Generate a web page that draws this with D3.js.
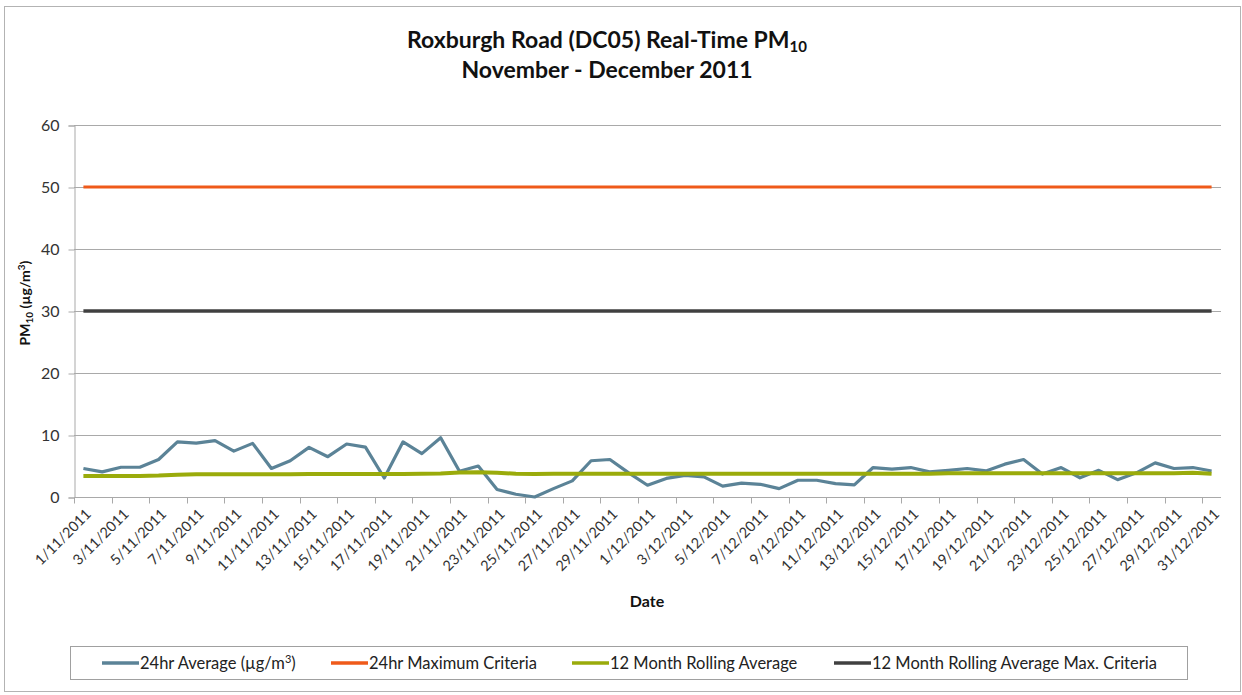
<!DOCTYPE html>
<html>
<head>
<meta charset="utf-8">
<script src="https://cdn.jsdelivr.net/npm/d3@7"></script>
<style>
  body { margin: 0; background: #fff; }
  svg { display: block; font-family: Lato, "Open Sans", sans-serif; }
</style>
</head>
<body>
<svg id="chart"></svg>
<script>
//categories: one per day
const dates = [
  "1/11/2011", "2/11/2011", "3/11/2011", "4/11/2011", "5/11/2011", "6/11/2011", "7/11/2011", "8/11/2011",
  "9/11/2011", "10/11/2011", "11/11/2011", "12/11/2011", "13/11/2011", "14/11/2011", "15/11/2011",
  "16/11/2011", "17/11/2011", "18/11/2011", "19/11/2011", "20/11/2011", "21/11/2011", "22/11/2011",
  "23/11/2011", "24/11/2011", "25/11/2011", "26/11/2011", "27/11/2011", "28/11/2011", "29/11/2011",
  "30/11/2011", "1/12/2011", "2/12/2011", "3/12/2011", "4/12/2011", "5/12/2011", "6/12/2011",
  "7/12/2011", "8/12/2011", "9/12/2011", "10/12/2011", "11/12/2011", "12/12/2011", "13/12/2011",
  "14/12/2011", "15/12/2011", "16/12/2011", "17/12/2011", "18/12/2011", "19/12/2011", "20/12/2011",
  "21/12/2011", "22/12/2011", "23/12/2011", "24/12/2011", "25/12/2011", "26/12/2011", "27/12/2011",
  "28/12/2011", "29/12/2011", "30/12/2011", "31/12/2011"
];

//24hr average (µg/m³)
const avg24 = [
  4.6, 4.05, 4.8, 4.8, 6.05, 8.9, 8.7, 9.1, 7.4, 8.65,
  4.6, 5.85, 8.0, 6.5, 8.55, 8.05, 3.07, 8.9, 7.0, 9.55,
  4.15, 5.0, 1.2, 0.45, 0.0, 1.35, 2.6, 5.85, 6.05, 3.9,
  1.9, 3.0, 3.5, 3.25, 1.75, 2.25, 2.05, 1.35, 2.7, 2.7,
  2.15, 1.95, 4.75, 4.5, 4.75, 4.05, 4.3, 4.6, 4.2, 5.3,
  6.05, 3.7, 4.75, 3.1, 4.3, 2.8, 3.9, 5.5, 4.6, 4.75,
  4.2
];

//12 month rolling average
const rolling12 = [
  3.4, 3.4, 3.4, 3.4, 3.45, 3.6, 3.65, 3.65, 3.65, 3.65,
  3.65, 3.65, 3.7, 3.7, 3.7, 3.7, 3.7, 3.7, 3.75, 3.8,
  3.95, 4.0, 3.9, 3.75, 3.7, 3.75, 3.75, 3.75, 3.75, 3.75,
  3.75, 3.75, 3.75, 3.75, 3.75, 3.75, 3.75, 3.75, 3.75, 3.75,
  3.75, 3.75, 3.75, 3.75, 3.75, 3.75, 3.85, 3.85, 3.85, 3.85,
  3.85, 3.85, 3.85, 3.85, 3.85, 3.85, 3.85, 3.85, 3.85, 3.9,
  3.75
];

//criteria lines
const max24 = 50;
const max12 = 30;

const yTicks = [0, 10, 20, 30, 40, 50, 60];

const colors = {
  avg: "#5b8397",
  max24: "#ef5a1a",
  roll: "#9aab0b",
  max12: "#404040",
  grid: "#a9a9a9"
};

const width = 1242, height = 695;
const margin = { left: 74, right: 21, top: 125, bottom: 198 };

const svg = d3.select("#chart").attr("width", width).attr("height", height);

//outer chart border
svg.append("rect")
  .attr("x", 4.5).attr("y", 6.5)
  .attr("width", 1236).attr("height", 685)
  .attr("fill", "#fff").attr("stroke", "#b3b3b3");

const x = d3.scaleBand()
  .domain(dates)
  .range([margin.left, width - margin.right])
  .padding(0);
const bw = x.bandwidth();
const cx = d => x(d) + bw / 2;

const y = d3.scaleLinear()
  .domain([0, 60])
  .range([height - margin.bottom, margin.top]);

//gridlines
svg.append("g")
  .selectAll("line")
  .data(yTicks.slice(1))
  .join("line")
  .attr("x1", margin.left).attr("x2", width - margin.right)
  .attr("y1", d => Math.round(y(d)) + 0.5).attr("y2", d => Math.round(y(d)) + 0.5)
  .attr("stroke", colors.grid);

//y axis
const yAxis = svg.append("g")
  .attr("transform", `translate(${margin.left + 0.5},0.5)`)
  .call(d3.axisLeft(y).tickValues(yTicks).tickSize(6).tickPadding(9));
yAxis.select(".domain").attr("stroke", colors.grid);
yAxis.selectAll(".tick line").attr("stroke", colors.grid);
yAxis.selectAll(".tick text")
  .attr("fill", "#333").style("font-size", "16px").style("font-family", "Lato, sans-serif");

//x axis: ticks between categories, every second boundary
const boundaries = dates.filter((d, i) => i % 2 === 0);
const xAxis = svg.append("g").attr("transform", `translate(0,${Math.round(y(0)) + 0.5})`);
xAxis.append("line")
  .attr("x1", margin.left).attr("x2", width - margin.right)
  .attr("stroke", colors.grid);
xAxis.selectAll(".tk")
  .data(boundaries)
  .join("line")
  .attr("class", "tk")
  .attr("x1", d => Math.round(x(d)) + 0.5).attr("x2", d => Math.round(x(d)) + 0.5)
  .attr("y1", 0).attr("y2", 6)
  .attr("stroke", colors.grid);
xAxis.selectAll("text")
  .data(boundaries)
  .join("text")
  .attr("transform", d => `translate(${cx(d) + 5},14) rotate(-45)`)
  .attr("text-anchor", "end")
  .attr("dy", "0.35em")
  .attr("fill", "#333")
  .style("font-size", "14.5px")
  .text(d => d);

//series
const line = d3.line()
  .x((d, i) => cx(dates[i]))
  .y(d => y(d));

const first = cx(dates[0]), last = cx(dates[dates.length - 1]);

svg.append("line")
  .attr("x1", first).attr("x2", last)
  .attr("y1", y(max24)).attr("y2", y(max24))
  .attr("stroke", colors.max24).attr("stroke-width", 3);

svg.append("line")
  .attr("x1", first).attr("x2", last)
  .attr("y1", y(max12)).attr("y2", y(max12))
  .attr("stroke", colors.max12).attr("stroke-width", 3.5);

svg.append("path")
  .datum(avg24)
  .attr("d", line)
  .attr("fill", "none")
  .attr("stroke", colors.avg).attr("stroke-width", 3.2)
  .attr("stroke-linejoin", "round");

svg.append("path")
  .datum(rolling12)
  .attr("d", line)
  .attr("fill", "none")
  .attr("stroke", colors.roll).attr("stroke-width", 4)
  .attr("stroke-linejoin", "round");

//title
const title = svg.append("text")
  .attr("x", 607).attr("y", 48)
  .attr("text-anchor", "middle")
  .style("font-size", "23px").style("font-weight", "bold")
  .attr("fill", "#111");
title.append("tspan").text("Roxburgh Road (DC05) Real-Time PM");
title.append("tspan").attr("dy", 4).style("font-size", "15px").text("10");
svg.append("text")
  .attr("x", 607).attr("y", 78)
  .attr("text-anchor", "middle")
  .style("font-size", "23px").style("font-weight", "bold")
  .attr("fill", "#111")
  .text("November - December 2011");

//axis titles
const yTitle = svg.append("text")
  .attr("transform", "translate(30,303) rotate(-90)")
  .attr("text-anchor", "middle")
  .style("font-size", "14px").style("font-weight", "bold")
  .attr("fill", "#111");
yTitle.append("tspan").text("PM");
yTitle.append("tspan").attr("dy", 3).style("font-size", "10px").text("10");
yTitle.append("tspan").attr("dy", -3).text(" (µg/m");
yTitle.append("tspan").attr("dy", -5).style("font-size", "10px").text("3");
yTitle.append("tspan").attr("dy", 5).text(")");

svg.append("text")
  .attr("x", 647).attr("y", 607)
  .attr("text-anchor", "middle")
  .style("font-size", "16px").style("font-weight", "bold")
  .attr("fill", "#111")
  .text("Date");

//legend
const legendItems = [
  { label: "24hr Average (µg/m", sup: "3", tail: ")", color: colors.avg, x: 102 },
  { label: "24hr Maximum Criteria", color: colors.max24, x: 331 },
  { label: "12 Month Rolling Average", color: colors.roll, x: 572 },
  { label: "12 Month Rolling Average Max. Criteria", color: colors.max12, x: 834 }
];

svg.append("rect")
  .attr("x", 70.5).attr("y", 646.5)
  .attr("width", 1117).attr("height", 33)
  .attr("fill", "#fff").attr("stroke", "#a0a0a0");

const leg = svg.append("g")
  .selectAll("g")
  .data(legendItems)
  .join("g")
  .attr("transform", d => `translate(${d.x},663)`);
leg.append("line")
  .attr("x1", 0).attr("x2", 37)
  .attr("stroke", d => d.color).attr("stroke-width", 3.5);
const lt = leg.append("text")
  .attr("x", 38).attr("dy", "0.35em")
  .style("font-size", "16.5px")
  .attr("fill", "#222");
lt.append("tspan").text(d => d.label);
lt.filter(d => d.sup).append("tspan").attr("dy", -6).style("font-size", "11px").text(d => d.sup);
lt.filter(d => d.sup).append("tspan").attr("dy", 6).text(d => d.tail);
</script>
</body>
</html>
